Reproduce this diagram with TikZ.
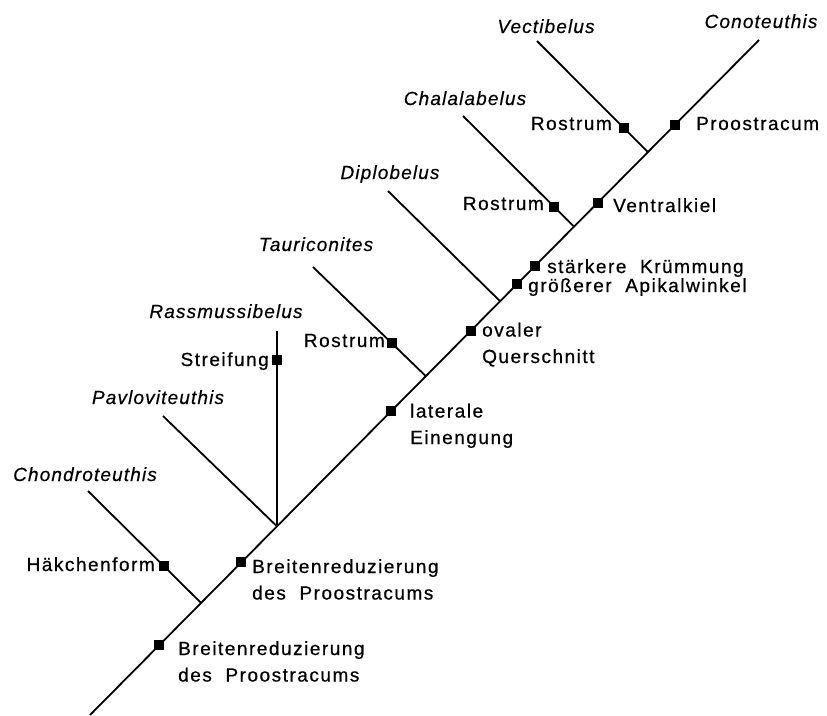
\documentclass[tikz,border=0pt]{standalone}
\usepackage{fontspec}
\usetikzlibrary{calc}
\newfontfamily\traitfont{Liberation Sans}[LetterSpace=8,WordSpace=2,FakeBold=0.6]
\newfontfamily\taxonfont{Liberation Sans Italic}[LetterSpace=6,FakeBold=0.4]
\begin{document}
\begin{tikzpicture}[x=1pt,y=-1pt,
  branch/.style={line width=1.8pt, line cap=butt},
  apomorphy/.style={rectangle, fill=black, inner sep=0pt, minimum size=10pt},
  trait/.style={font=\traitfont\fontsize{19}{26.5}\selectfont, inner sep=0pt, align=left},
  taxon/.style={font=\taxonfont\fontsize{19}{24}\selectfont, inner sep=0pt, anchor=base}]
\useasboundingbox[fill=white] (0,0) rectangle (827,715);

% stem of the cladogram
\coordinate (root) at (90,715);
\coordinate (top) at (759,40);
\coordinate (j1) at ($(root)!0.166!(top)$);
\coordinate (j2) at ($(root)!0.2795!(top)$);
\coordinate (j3) at ($(root)!0.502!(top)$);
\coordinate (j4) at ($(root)!0.613!(top)$);
\coordinate (j5) at ($(root)!0.7235!(top)$);
\coordinate (j6) at ($(root)!0.834!(top)$);

% tips of the side branches
\coordinate (t1) at (88,491);
\coordinate (t2) at (163,416);
\coordinate (tr) at (277,331);
\coordinate (t3) at (313,267);
\coordinate (t4) at (388,191);
\coordinate (t5) at (463,116);
\coordinate (t6) at (537,41);

\draw[branch] (root) -- (top);
\draw[branch] (t1) -- (j1);
\draw[branch] (t2) -- (j2);
\draw[branch] (tr) -- (j2);
\draw[branch] (t3) -- (j3);
\draw[branch] (t4) -- (j4);
\draw[branch] (t5) -- (j5);
\draw[branch] (t6) -- (j6);

% taxa
\node[taxon] (chondro) at (85,481) {Chondroteuthis};
\node[taxon] (pavlo) at (158,404) {Pavloviteuthis};
\node[taxon] (rass) at (226,318) {Rassmussibelus};
\node[taxon] (tauri) at (316,251) {Tauriconites};
\node[taxon] (diplo) at (390,179) {Diplobelus};
\node[taxon] (chala) at (465,105) {Chalalabelus};
\node[taxon] (vecti) at (546,33) {Vectibelus};
\node[taxon] (cono) at (761,28) {Conoteuthis};

% character states on the stem
\node[apomorphy] (m1) at ($(root)!0.103!(top)$) {};
\node[apomorphy] (m2) at ($(root)!0.226!(top)$) {};
\node[apomorphy] (m3) at ($(root)!0.450!(top)$) {};
\node[apomorphy] (m4) at ($(root)!0.5695!(top)$) {};
\node[apomorphy] (m5) at ($(root)!0.638!(top)$) {};
\node[apomorphy] (m6) at ($(root)!0.665!(top)$) {};
\node[apomorphy] (m7) at ($(root)!0.759!(top)$) {};
\node[apomorphy] (m8) at ($(root)!0.874!(top)$) {};

% character states on the side branches
\node[apomorphy] (s1) at ($(t1)!0.673!(j1)$) {};
\node[apomorphy] (s2) at ($(tr)!0.149!(j2)$) {};
\node[apomorphy] (s3) at ($(t3)!0.699!(j3)$) {};
\node[apomorphy] (s4) at ($(t5)!0.82!(j5)$) {};
\node[apomorphy] (s5) at ($(t6)!0.784!(j6)$) {};

% labels of the character states (base = baseline of the last line)
\node[trait, anchor=base west] (l1) at (178,681.5) {Breitenreduzierung\\des Proostracums};
\node[trait, anchor=base west] (l2) at (252,599.5) {Breitenreduzierung\\des Proostracums};
\node[trait, anchor=base west] (l3) at (410,444) {laterale\\Einengung};
\node[trait, anchor=base west] (l4) at (482,363) {ovaler\\Querschnitt};
\node[trait, anchor=base west] (l5) at (528,292) {größerer Apikalwinkel};
\node[trait, anchor=base west] (l6) at (547,273) {stärkere Krümmung};
\node[trait, anchor=base west] (l7) at (613,212) {Ventralkiel};
\node[trait, anchor=base west] (l8) at (696,130) {Proostracum};

\node[trait, anchor=base east] (k1) at (155,571) {Häkchenform};
\node[trait, anchor=base east] (k2) at (269,366) {Streifung};
\node[trait, anchor=base east] (k3) at (385,347) {Rostrum};
\node[trait, anchor=base east] (k4) at (544,210) {Rostrum};
\node[trait, anchor=base east] (k5) at (612,130) {Rostrum};
\end{tikzpicture}
\end{document}
